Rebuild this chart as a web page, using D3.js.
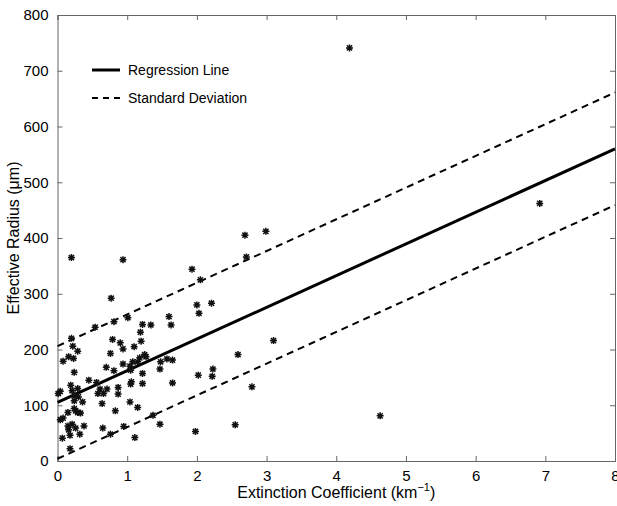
<!DOCTYPE html>
<html>
<head>
<meta charset="utf-8">
<script src="https://cdn.jsdelivr.net/npm/d3@7"></script>
<style>
body{margin:0;background:#fff}
text{font-family:"Liberation Sans",Arial,sans-serif;fill:#000}
</style>
</head>
<body>
<svg id="chart" width="617" height="506"></svg>
<script>
// scatter data
const ext=[4.19,2.99,6.92,3.10,2.79,4.63,2.69,2.71,1.93,2.05,2.00,2.21,2.03,1.60,1.63,1.34,2.59,1.48,1.47,1.57,1.65,1.65,2.02,2.23,2.22,1.37,1.47,1.98,2.55,
 0.20,0.94,0.77,1.01,0.81,0.54,1.22,0.20,0.22,0.79,1.19,1.20,0.90,0.94,1.10,0.29,0.16,0.08,0.23,0.76,1.25,1.27,1.18,1.15,0.94,1.04,1.08,0.70,0.81,0.24,1.22,1.05,
 0.56,0.45,0.19,0.29,0.21,0.04,0.01,0.25,0.30,0.61,0.71,0.58,0.66,0.87,0.87,1.05,1.06,1.22,0.24,0.36,0.64,1.04,1.15,0.24,0.26,0.29,0.33,0.15,0.08,0.04,0.83,
 0.21,0.15,0.16,0.26,0.38,0.65,0.95,0.76,0.32,0.18,0.07,1.11,0.18]
const reff=[741,412,462,216,133,81,405,366,344,325,280,283,265,259,244,244,191,178,165,183,181,140,154,165,152,82,66,53,65,
 365,361,292,257,250,240,245,220,206,218,231,215,212,201,205,197,187,179,184,193,191,187,185,178,174,170,178,168,162,159,157,163,
 141,145,136,130,126,125,121,117,115,129,129,121,121,132,120,138,142,139,108,106,103,106,96,94,90,87,86,87,77,74,90,
 66,63,56,59,63,59,62,48,48,46,41,42,22]
const fitX=[0,8]
const fitY=[105,560]
const sdev=101
const xTicks=[0,1,2,3,4,5,6,7,8]
const yTicks=[0,100,200,300,400,500,600,700,800]

const svg=d3.select("#chart")
const L=57.5,R=615,T=15,B=461
const x=d3.scaleLinear().domain([0,8]).range([L,R])
const y=d3.scaleLinear().domain([0,800]).range([B,T])

// box + inward ticks
const axc="#666"
svg.append("g").attr("transform",`translate(0,${B})`)
 .call(d3.axisBottom(x).tickValues(xTicks).tickSize(-5).tickPadding(9).tickFormat(d3.format("d")))
 .call(g=>{g.select(".domain").attr("stroke",axc);g.selectAll("line").attr("stroke",axc);g.selectAll("text").attr("font-size",15).attr("font-family","Liberation Sans, Arial")})
svg.append("g").attr("transform",`translate(0,${T})`)
 .call(d3.axisTop(x).tickValues(xTicks).tickSize(-5).tickFormat(""))
 .call(g=>{g.select(".domain").attr("stroke",axc);g.selectAll("line").attr("stroke",axc)})
svg.append("g").attr("transform",`translate(${L},0)`)
 .call(d3.axisLeft(y).tickValues(yTicks).tickSize(-5).tickPadding(9).tickFormat(d3.format("d")))
 .call(g=>{g.select(".domain").attr("stroke",axc);g.selectAll("line").attr("stroke",axc);g.selectAll("text").attr("font-size",15).attr("font-family","Liberation Sans, Arial")})
svg.append("g").attr("transform",`translate(${R},0)`)
 .call(d3.axisRight(y).tickValues(yTicks).tickSize(-5).tickFormat(""))
 .call(g=>{g.select(".domain").attr("stroke",axc);g.selectAll("line").attr("stroke",axc)})

const line=d3.line().x(d=>x(d[0])).y(d=>y(d[1]))
const fit=fitX.map((v,i)=>[v,fitY[i]])
svg.append("path").attr("d",line(fit)).attr("fill","none").attr("stroke","#000").attr("stroke-width",3)
svg.append("path").attr("d",line(fit.map(d=>[d[0],d[1]+sdev]))).attr("fill","none").attr("stroke","#000").attr("stroke-width",2).attr("stroke-dasharray","7,5")
svg.append("path").attr("d",line(fit.map(d=>[d[0],d[1]-sdev]))).attr("fill","none").attr("stroke","#000").attr("stroke-width",2).attr("stroke-dasharray","7,5")

// asterisk markers
const star="M-3.5,0H3.5M0,-3.5V3.5M-2.6,-2.6L2.6,2.6M-2.6,2.6L2.6,-2.6"
svg.append("g").selectAll("path").data(ext).join("path")
 .attr("d",star)
 .attr("transform",(d,i)=>`translate(${x(d)},${y(reff[i])})`)
 .attr("stroke","#111").attr("stroke-width",1.5).attr("fill","none")

// legend
const lg=svg.append("g")
lg.append("line").attr("x1",92).attr("x2",120).attr("y1",70).attr("y2",70).attr("stroke","#000").attr("stroke-width",3)
lg.append("line").attr("x1",92).attr("x2",120).attr("y1",98).attr("y2",98).attr("stroke","#000").attr("stroke-width",2).attr("stroke-dasharray","6,5")
lg.append("text").attr("x",128).attr("y",75).attr("font-size",14).text("Regression Line")
lg.append("text").attr("x",128).attr("y",103).attr("font-size",14).text("Standard Deviation")

// axis titles
const xt=svg.append("text").attr("x",(L+R)/2).attr("y",498).attr("text-anchor","middle").attr("font-size",16)
xt.append("tspan").text("Extinction Coefficient (km")
xt.append("tspan").attr("dy",-7).attr("font-size",11).text("−1")
xt.append("tspan").attr("dy",7).text(")")
svg.append("text").attr("transform",`translate(19,${(T+B)/2}) rotate(-90)`).attr("text-anchor","middle").attr("font-size",16).text("Effective Radius (μm)")
</script>
</body>
</html>
